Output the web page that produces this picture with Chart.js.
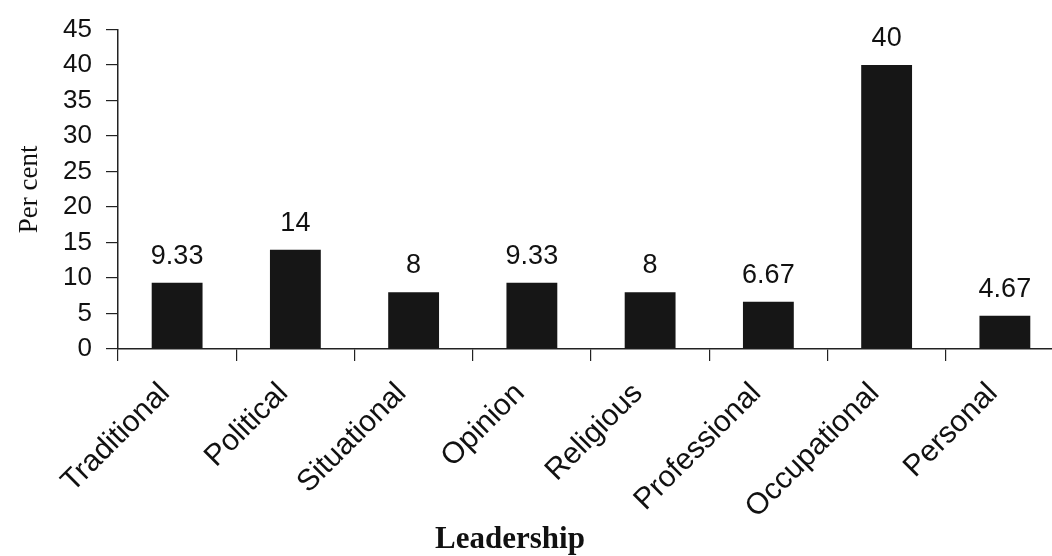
<!DOCTYPE html>
<html>
<head>
<meta charset="utf-8">
<script src="https://cdn.jsdelivr.net/npm/chart.js@4/dist/chart.umd.min.js"></script>
<style>
  html, body { margin: 0; padding: 0; background: #ffffff; overflow: hidden; }
  #wrap { position: relative; width: 1070px; height: 556px; }
</style>
</head>
<body>
<div id="wrap"><canvas id="chart" width="1070" height="556"></canvas></div>
<script>
// Share of leadership types (per cent)
const categories = ['Traditional', 'Political', 'Situational', 'Opinion', 'Religious', 'Professional', 'Occupational', 'Personal'];
const percentValues = [9.33, 14, 8, 9.33, 8, 6.67, 40, 4.67];
const yTicks = [0, 5, 10, 15, 20, 25, 30, 35, 40, 45];
const xTitle = 'Leadership';
const yTitle = 'Per cent';

const INK = '#111111';
const SANS = 'Arial, "Liberation Sans", sans-serif';
const SERIF = '"Times New Roman", "Liberation Serif", serif';

// Value labels above each bar, plus both axis titles
const annotate = {
  id: 'annotate',
  afterDatasetsDraw(chart) {
    const ctx = chart.ctx;
    const meta = chart.getDatasetMeta(0);
    ctx.save();
    ctx.fillStyle = INK;
    ctx.font = '27px ' + SANS;
    ctx.textAlign = 'center';
    ctx.textBaseline = 'alphabetic';
    meta.data.forEach((bar, i) => {
      ctx.fillText(String(percentValues[i]), bar.x, bar.y - 19);
    });

    // x-axis title
    ctx.font = 'bold 31px ' + SERIF;
    ctx.fillText(xTitle, 510, 548);

    // y-axis title
    ctx.translate(37, (chart.chartArea.top + chart.chartArea.bottom) / 2);
    ctx.rotate(-Math.PI / 2);
    ctx.font = '27px ' + SERIF;
    ctx.fillText(yTitle, 0, 0);
    ctx.restore();
  }
};

new Chart(document.getElementById('chart'), {
  type: 'bar',
  data: {
    labels: categories,
    datasets: [{
      data: percentValues,
      backgroundColor: '#161616',
      borderWidth: 0,
      categoryPercentage: 1,
      barPercentage: 0.43
    }]
  },
  options: {
    responsive: false,
    animation: false,
    devicePixelRatio: 1,
    layout: { padding: { left: 0, right: 6, top: 29, bottom: 0 } },
    plugins: {
      legend: { display: false },
      tooltip: { enabled: false },
      title: { display: false }
    },
    scales: {
      x: {
        offset: true,
        border: { display: true, color: '#222', width: 1.5 },
        grid: {
          offset: true,
          drawOnChartArea: false,
          drawTicks: true,
          tickLength: 12,
          tickColor: '#222',
          lineWidth: 1.2
        },
        ticks: {
          color: INK,
          font: { family: SANS, size: 30 },
          minRotation: 45,
          maxRotation: 45,
          autoSkip: false,
          padding: 15,
          labelOffset: -12
        },
        afterFit(scale) { scale.height = 207; }
      },
      y: {
        min: 0,
        max: 45,
        border: { display: true, color: '#222', width: 1.5 },
        grid: {
          drawOnChartArea: false,
          drawTicks: true,
          tickLength: 12,
          tickColor: '#222',
          lineWidth: 1.2
        },
        afterBuildTicks(scale) { scale.ticks = yTicks.map(v => ({ value: v })); },
        ticks: {
          color: INK,
          font: { family: SANS, size: 26 },
          padding: 14
        },
        afterFit(scale) { scale.width = 118; }
      }
    }
  },
  plugins: [annotate]
});
</script>
</body>
</html>
